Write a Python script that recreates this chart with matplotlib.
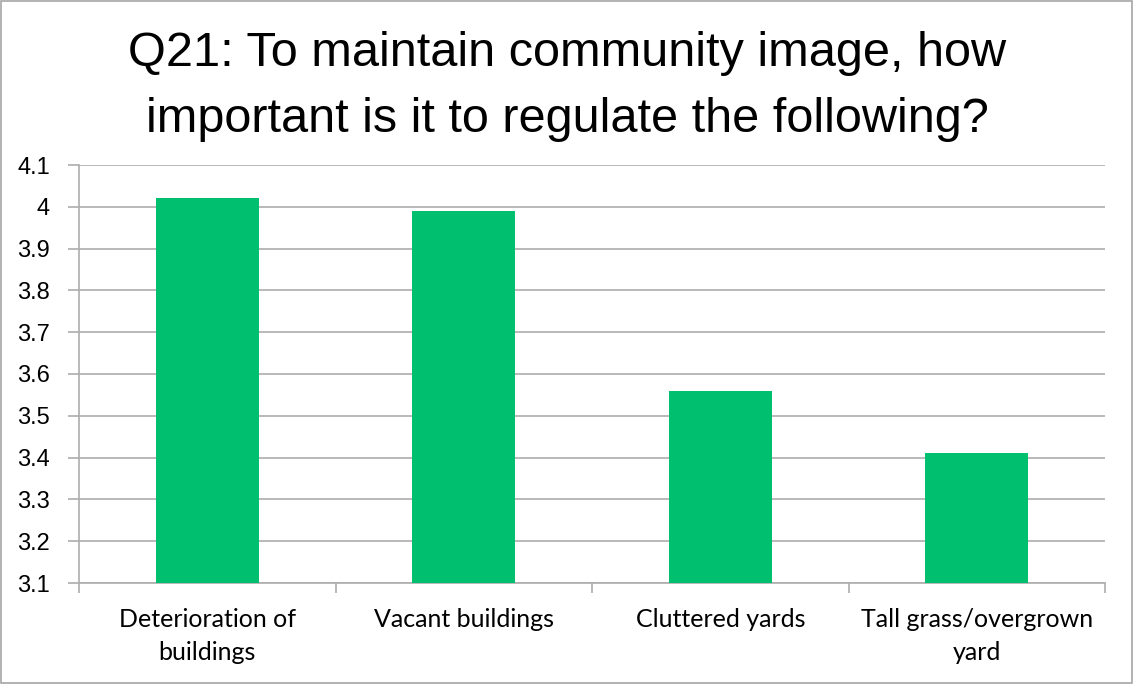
import numpy as np
import matplotlib.pyplot as plt

# survey answers, average importance score per item
categories = ['Deterioration of\nbuildings', 'Vacant buildings', 'Cluttered yards',
              'Tall grass/overgrown\nyard']
scores = [4.02, 3.99, 3.56, 3.41]
y_ticks = [3.1, 3.2, 3.3, 3.4, 3.5, 3.6, 3.7, 3.8, 3.9, 4.0, 4.1]
y_labels = ['3.1', '3.2', '3.3', '3.4', '3.5', '3.6', '3.7', '3.8', '3.9', '4', '4.1']

fig = plt.figure(figsize=(11.34, 6.84), dpi=100)
ax = fig.add_axes([79 / 1134, 1 - 583 / 684, (1105 - 79) / 1134, (583 - 165) / 684])

x = np.arange(len(categories))
ax.bar(x, scores, width=0.40, color='#00BF6F', bottom=0, zorder=3)

ax.set_xlim(-0.5, len(categories) - 0.5)
ax.set_ylim(3.1, 4.1)
ax.set_yticks(y_ticks)
ax.set_yticklabels(y_labels, fontsize=17, family='Liberation Sans')
ax.yaxis.grid(True, color='#ADADAD', linewidth=1.2, zorder=0)

ax.set_xticks(x)
ax.set_xticklabels(categories, fontsize=18, family='Lato', linespacing=1.55)
ax.set_xticks(np.arange(len(categories) + 1) - 0.5, minor=True)
ax.tick_params(axis='x', which='major', length=0, pad=18)
ax.tick_params(axis='x', which='minor', length=7, color='#ADADAD', width=1.2)
ax.tick_params(axis='y', length=8, color='#ADADAD', width=1.2, pad=13)

for side in ['top', 'right']:
    ax.spines[side].set_visible(False)
ax.spines['left'].set_color('#ADADAD')
ax.spines['bottom'].set_color('#ADADAD')
ax.spines['left'].set_linewidth(1.2)
ax.spines['bottom'].set_linewidth(1.2)

fig.text(0.5, 1 - 87 / 684, 'Q21: To maintain community image, how\nimportant is it to regulate the following?',
         ha='center', va='center', fontsize=35, family='Liberation Sans', linespacing=1.6)

# light frame round the whole chart
fig.patches.append(plt.Rectangle((0.001, 0.002), 0.997, 0.996, transform=fig.transFigure,
                                 fill=False, edgecolor='#A6A6A6', linewidth=1.2))

fig.savefig('out.png', dpi=100)
